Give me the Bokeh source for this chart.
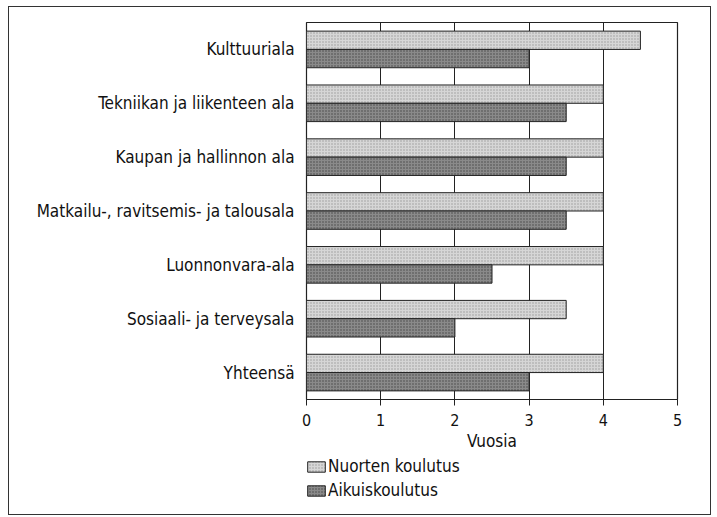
from bokeh.plotting import figure
from bokeh.models import ColumnDataSource, Legend, LegendItem, FixedTicker
from bokeh.layouts import column
from bokeh.transform import dodge
from bokeh.embed import file_html
from bokeh.resources import INLINE

categories = ["Kulttuuriala", "Tekniikan ja liikenteen ala", "Kaupan ja hallinnon ala",
              "Matkailu-, ravitsemis- ja talousala", "Luonnonvara-ala",
              "Sosiaali- ja terveysala", "Yhteensä"]
nuorten = [4.5, 4.0, 4.0, 4.0, 4.0, 3.5, 4.0]
aikuis = [3.0, 3.5, 3.5, 3.5, 2.5, 2.0, 3.0]
series_names = ["Nuorten koulutus", "Aikuiskoulutus"]
x_ticks = [0, 1, 2, 3, 4, 5]

FONT = "Liberation Sans Narrow, DejaVu Sans Condensed, sans-serif"
LIGHT = dict(fill_color="#d6d6d6", hatch_pattern="dot", hatch_scale=3, hatch_color="#9a9a9a",
             line_color="#222222", line_width=1)
DARK = dict(fill_color="#8a8a8a", hatch_pattern="dot", hatch_scale=3, hatch_color="#444444",
            line_color="#222222", line_width=1)

src = ColumnDataSource(dict(cat=categories, n=nuorten, a=aikuis))

p = figure(y_range=list(reversed(categories)), x_range=(0, 5),
           width=701, height=447, output_backend="svg", toolbar_location=None,
           min_border_left=297, min_border_right=33, min_border_top=15, min_border_bottom=55)

p.hbar(y=dodge("cat", 0.17, range=p.y_range), right="n", left=0, height=0.34, source=src, **LIGHT)
p.hbar(y=dodge("cat", -0.17, range=p.y_range), right="a", left=0, height=0.34, source=src, **DARK)

p.xgrid.ticker = FixedTicker(ticks=x_ticks)
p.xgrid.grid_line_color = "#222222"
p.xgrid.grid_line_width = 1
p.ygrid.grid_line_color = None
p.outline_line_color = "#222222"
p.outline_line_width = 1.2

p.xaxis.ticker = FixedTicker(ticks=x_ticks)
p.xaxis.axis_line_color = None
p.xaxis.major_tick_out = 6
p.xaxis.major_tick_in = 0
p.xaxis.minor_tick_line_color = None
p.xaxis.major_tick_line_color = "#222222"
p.xaxis.major_label_text_font = FONT
p.xaxis.major_label_text_font_size = "16px"
p.xaxis.major_label_text_color = "#111111"
p.xaxis.major_label_standoff = 8
p.xaxis.axis_label = "Vuosia"
p.xaxis.axis_label_text_font = FONT
p.xaxis.axis_label_text_font_style = "normal"
p.xaxis.axis_label_text_font_size = "17px"
p.xaxis.axis_label_text_color = "#111111"
p.xaxis.axis_label_standoff = 2

p.yaxis.axis_line_color = None
p.yaxis.major_tick_line_color = None
p.yaxis.minor_tick_line_color = None
p.yaxis.major_label_text_font = FONT
p.yaxis.major_label_text_font_size = "17px"
p.yaxis.major_label_text_color = "#111111"
p.yaxis.major_label_standoff = 6

# legend strip below the chart (legend-only renderers kept outside the visible range)
p2 = figure(width=701, height=60, output_backend="svg", toolbar_location=None,
            x_range=(0, 1), y_range=(0, 1), x_axis_type=None, y_axis_type=None,
            min_border_left=297, min_border_right=33, min_border_top=0, min_border_bottom=0)
p2.outline_line_color = None
p2.grid.grid_line_color = None
key_src = ColumnDataSource(dict(y=[-10], right=[0]))
l1 = p2.hbar(y="y", right="right", left=0, height=0.3, source=key_src, **LIGHT)
l2 = p2.hbar(y="y", right="right", left=0, height=0.3, source=key_src, **DARK)

legend = Legend(items=[LegendItem(label=series_names[0], renderers=[l1], index=0),
                       LegendItem(label=series_names[1], renderers=[l2], index=0)],
                orientation="vertical", location=(-1, 14),
                label_text_font=FONT, label_text_font_size="17px", label_text_color="#111111",
                glyph_width=22, glyph_height=13, label_standoff=1, label_height=20,
                spacing=4, padding=0, margin=0, border_line_color=None,
                background_fill_alpha=0)
p2.add_layout(legend, "center")

layout = column(p, p2, spacing=0,
                styles={"border": "1px solid #333", "margin": "6px 0 0 8px"})

open("out.html", "w").write(file_html(layout, INLINE))
